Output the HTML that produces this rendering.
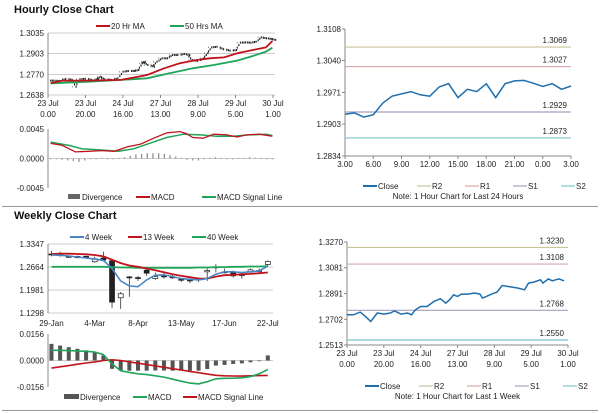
<!DOCTYPE html>
<html><head><meta charset="utf-8"><style>
html,body{margin:0;padding:0;background:#fff}
svg{display:block;font-family:"Liberation Sans",sans-serif}
text{font-size:8px;fill:#222}
.t{font-size:11px;font-weight:bold;fill:#111}
</style></head><body>
<svg id="s" width="600" height="413" viewBox="0 0 600 413">
<text class="t" x="14" y="13">Hourly Close Chart</text>
<line x1="2" y1="206.5" x2="598" y2="206.5" stroke="#999"/>
<text class="t" x="14" y="219">Weekly Close Chart</text>
<line x1="2" y1="410.5" x2="598" y2="410.5" stroke="#999"/>
</svg>
<script>
// ---- Hourly top-left price ----
const hT=[0,4,9,14,17,20,24,29,34,36,39,44,49,53,57,62,65,68,70,72,77,79,83,87,91,95,100,104,106,110,115,118,121,125,130,135,140,143,147,151,155,159,163,167,170];
const hClose=[1.2730,1.2728,1.2741,1.2735,1.2691,1.2739,1.2742,1.2735,1.2739,1.2755,1.2739,1.2735,1.2745,1.2787,1.2792,1.2792,1.2798,1.2841,1.2851,1.2830,1.2819,1.2851,1.2873,1.2873,1.2894,1.2894,1.2901,1.2894,1.2862,1.2856,1.2873,1.2905,1.2943,1.2947,1.2931,1.2922,1.2926,1.2973,1.2975,1.2973,1.2979,1.3007,1.3001,1.2997,1.2991];
const hMaT=[0,9,29,54,74,87,99,112,122,133,143,155,165,170];
const hMa20=[1.2713,1.2730,1.2730,1.2735,1.2766,1.2809,1.2841,1.2862,1.2873,1.2879,1.2905,1.2926,1.2943,1.2984];
const hMa50T=[0,29,54,74,89,109,125,143,155,165,170];
const hMa50=[1.2713,1.2723,1.2735,1.2745,1.2773,1.2809,1.2830,1.2858,1.2888,1.2915,1.2941];
const hTicks=['1.3035','1.2903','1.2770','1.2638'];
const hXLab=[['23 Jul','0.00'],['23 Jul','20.00'],['24 Jul','16.00'],['27 Jul','13.00'],['28 Jul','9.00'],['29 Jul','5.00'],['30 Jul','1.00']];
// hourly MACD
const mT=[0,9,14,19,29,39,49,59,69,79,89,99,104,109,117,125,135,143,150,160,170];
const mMacd=[0.0023,0.0020,0.0015,0.0010,0.0011,0.0012,0.0011,0.0018,0.0022,0.0031,0.0039,0.0041,0.0038,0.0032,0.0031,0.0037,0.0036,0.0033,0.0036,0.0037,0.0034];
const sT=[0,14,24,39,52,64,77,89,102,115,127,140,152,165,170];
const mSig=[0.0025,0.0020,0.0015,0.0013,0.0011,0.0015,0.0024,0.0032,0.0037,0.0036,0.0034,0.0034,0.0036,0.0037,0.0035];
const mHist=[-0.0001,-0.0001,-0.0002,-0.0003,-0.0004,-0.0005,-0.0003,-0.0001,0,0.0001,0,-0.0001,0.0001,0.0002,0.0004,0.0006,0.0007,0.0008,0.0008,0.0008,0.0007,0.0005,0.0003,0.0001,-0.0002,-0.0003,-0.0003,-0.0001,0.0001,0.0002,0.0001,0,-0.0001,0.0001,0.0001,0.0002,0.0001,0.0001,0,0];
const mTicks=['0.0045','0.0000','-0.0045'];
// ---- Hourly right (24h) ----
const dHours=['3.00','6.00','9.00','12.00','15.00','18.00','21.00','0.00','3.00'];
const dClose=[1.2924,1.2927,1.2918,1.2923,1.2948,1.2963,1.2968,1.2973,1.2966,1.2963,1.2983,1.2990,1.2960,1.2978,1.2973,1.2990,1.2960,1.2990,1.2996,1.2997,1.2991,1.2984,1.2990,1.2978,1.2985];
const dLevels=[1.3069,1.3027,1.2929,1.2873];
const dLevelNames=['R2','R1','S1','S2'];
const dTicks=[1.3108,1.3040,1.2971,1.2903,1.2834];
// ---- Weekly ----
const wLab=['29-Jan','4-Mar','8-Apr','13-May','17-Jun','22-Jul'];
const wOpen=[1.305,1.303,1.298,1.298,1.298,1.282,1.293,1.285,1.175,1.237,1.235,1.257,1.232,1.240,1.237,1.230,1.228,1.232,1.252,1.264,1.252,1.250,1.244,1.252,1.255,1.274];
const wClose=[1.304,1.302,1.297,1.294,1.294,1.291,1.287,1.162,1.187,1.236,1.234,1.248,1.238,1.239,1.236,1.227,1.227,1.231,1.256,1.267,1.251,1.240,1.243,1.258,1.256,1.283];
const wHigh=[1.315,1.312,1.300,1.300,1.300,1.297,1.312,1.286,1.192,1.240,1.240,1.262,1.250,1.250,1.243,1.233,1.232,1.236,1.262,1.275,1.262,1.256,1.250,1.262,1.262,1.286];
const wLow=[1.298,1.297,1.294,1.292,1.292,1.279,1.284,1.144,1.142,1.178,1.225,1.240,1.228,1.232,1.232,1.222,1.219,1.222,1.225,1.250,1.248,1.235,1.232,1.248,1.250,1.270];
const w4=[1.302,1.301,1.299,1.296,1.293,1.290,1.286,1.262,1.225,1.210,1.208,1.228,1.242,1.243,1.238,1.232,1.230,1.228,1.232,1.245,1.252,1.252,1.250,1.252,1.255,1.269];
const w13=[1.305,1.306,1.306,1.305,1.304,1.302,1.298,1.288,1.278,1.271,1.267,1.262,1.257,1.251,1.245,1.240,1.236,1.232,1.232,1.238,1.242,1.243,1.245,1.246,1.248,1.250];
const w40=[1.267,1.267,1.267,1.267,1.267,1.267,1.267,1.266,1.265,1.265,1.264,1.264,1.264,1.264,1.264,1.264,1.264,1.265,1.265,1.266,1.266,1.267,1.267,1.268,1.268,1.269];
const wTicks=['1.3347','1.2664','1.1981','1.1298'];
const wDiv=[0.0098,0.0088,0.0078,0.0069,0.0060,0.0050,0.0030,-0.0049,-0.0059,-0.0060,-0.0060,-0.0060,-0.0059,-0.0059,-0.0060,-0.0060,-0.0060,-0.0060,-0.0050,-0.0030,-0.0026,-0.0020,-0.0017,-0.0010,-0.0004,0.0030];
const wMacd=[0.0060,0.0060,0.0058,0.0056,0.0054,0.0050,0.0035,-0.0020,-0.0060,-0.0070,-0.0078,-0.0083,-0.0090,-0.0098,-0.0110,-0.0122,-0.0133,-0.0138,-0.0125,-0.0108,-0.0105,-0.0104,-0.0102,-0.0095,-0.0078,-0.0053];
const wSig=[-0.0045,-0.0037,-0.0030,-0.0022,-0.0015,-0.0008,0,0.0004,0,-0.0008,-0.0016,-0.0024,-0.0032,-0.0040,-0.0048,-0.0056,-0.0064,-0.0072,-0.0080,-0.0087,-0.0090,-0.0091,-0.0092,-0.0090,-0.0089,-0.0088];
const wmTicks=['0.0156','0.0000','-0.0156'];
// ---- 1 week hourly right ----
const kT=[0,5,10,14,18,23,28,33,36,41,46,49,52,56,61,66,71,75,78,81,84,87,92,97,101,103,106,110,114,118,125,130,135,138,142,147,149,153,156,161,165];
const kClose=[1.2735,1.2735,1.2755,1.2723,1.2686,1.2748,1.2740,1.2748,1.2764,1.2740,1.2748,1.2735,1.2772,1.2796,1.2796,1.2833,1.2853,1.2821,1.2845,1.2882,1.2870,1.2887,1.2887,1.2895,1.2887,1.2858,1.2870,1.2887,1.2902,1.2950,1.2939,1.2931,1.2919,1.2968,1.2975,1.2992,1.2968,1.2999,1.2985,1.2999,1.2985];
const kLevels=[1.3230,1.3108,1.2768,1.2550];
const kTicks=[1.3270,1.3081,1.2891,1.2702,1.2513];
const kXLab=[['23 Jul','0.00'],['23 Jul','20.00'],['24 Jul','16.00'],['27 Jul','13.00'],['28 Jul','9.00'],['29 Jul','5.00'],['30 Jul','1.00']];
const levelColors=['#c9c49a','#d9a9a9','#a8a0c0','#7cc4cf'];

const S=document.getElementById('s');const NS='http://www.w3.org/2000/svg';
function mk(tag,a,parent){const e=document.createElementNS(NS,tag);for(const k in a)e.setAttribute(k,a[k]);(parent||S).appendChild(e);return e;}
function txt(x,y,s,anchor){const e=mk('text',{x:x,y:y,'text-anchor':anchor||'start'});e.textContent=s;return e;}
function lin(d0,d1,r0,r1){return v=>r0+(v-d0)/(d1-d0)*(r1-r0);}
function path(xs,ys,xf,yf,color,w){let d='';for(let i=0;i<xs.length;i++)d+=(i?'L':'M')+xf(xs[i]).toFixed(1)+','+yf(ys[i]).toFixed(1);return mk('path',{d:d,fill:'none',stroke:color,'stroke-width':w||1.5});}
function legLine(x,y,color,label,w){const l=mk('line',{x1:x,y1:y,x2:x+14,y2:y,stroke:color,'stroke-width':w||2});


const t=txt(x+15,y+3,label);

}

// ===== Panel 1: hourly price =====
{const X=lin(-2,172,48,275),Y=lin(1.2638,1.3035,95,33);
hTicks.forEach(v=>{const y=Y(+v);const g=mk('line',{x1:48,x2:275,y1:y,y2:y,stroke:'#bbb','stroke-width':0.7});


const t=txt(44,y+3,v,'end');

});
mk('line',{x1:48,x2:48,y1:33,y2:95,stroke:'#888'});
hXLab.forEach((l,i)=>{const x=48+i*37.5;const a=txt(x,106,l[0],'middle');


const b=txt(x,117,l[1],'middle');


mk('line',{x1:x,x2:x,y1:95,y2:98,stroke:'#888'});});
for(let i=0;i<hT.length;i++){const x=X(hT[i]);const p=i?hClose[i-1]:hClose[0];const c=hClose[i];
for(let k=0;k<3;k++){const xx=x+k*1.6;const v=p+(c-p)*(k+1)/3;const y=Y(v);
const r=mk('rect',{x:xx-0.5,y:y-1,width:1.2,height:2,fill:'#222'});

}
const w=mk('line',{x1:x,x2:x,y1:Y(c+0.0004),y2:Y(c-0.0004),stroke:'#333','stroke-width':0.6});

}
const g=path(hMa50T,hMa50,X,Y,'#1fa55a',1.8);


const r=path(hMaT,hMa20,X,Y,'#c0141c',1.8);


legLine(96,26,'#c0141c','20 Hr MA');legLine(170,26,'#1fa55a','50 Hrs MA');}

// ===== Panel 1b: hourly MACD =====
{const X=lin(-2,172,48,275),Y=lin(-0.0045,0.0045,188,129);
mTicks.forEach(v=>{const t=txt(44,Y(+v)+3,v,'end');

});
mk('line',{x1:48,x2:48,y1:129,y2:188,stroke:'#888'});
mk('line',{x1:48,x2:275,y1:Y(0),y2:Y(0),stroke:'#bbb','stroke-width':0.7});
mHist.forEach((v,i)=>{const x=X(i*170/(mHist.length-1));const y0=Y(0),y1=Y(v);
const b=mk('rect',{x:x-0.6,y:Math.min(y0,y1),width:1.2,height:Math.max(0.8,Math.abs(y1-y0)),fill:'#888'});

});
const g=path(sT,mSig,X,Y,'#1fa55a',1.5);


const r=path(mT,mMacd,X,Y,'#c0141c',1.3);


const bx=mk('rect',{x:68,y:194,width:12,height:5,fill:'#666'});


const bt=txt(82,200,'Divergence');


legLine(136,197,'#c0141c','MACD');legLine(202,197,'#1fa55a','MACD Signal Line');}

// ===== generic level chart =====
function levelChart(x0,x1,ytop,ybot,ticks,xs,vals,levels,xlabels,twoLine,legY,noteY,note,tmax){
const Y=lin(ticks[ticks.length-1],ticks[0],ybot,ytop),X=lin(0,tmax,x0,x1);
mk('line',{x1:x0,x2:x0,y1:ytop,y2:ybot,stroke:'#888'});mk('line',{x1:x0,x2:x1,y1:ybot,y2:ybot,stroke:'#888'});
ticks.forEach(v=>{const y=Y(v);mk('line',{x1:x0-3,x2:x0,y1:y,y2:y,stroke:'#888'});const t=txt(x0-4,y+3,v.toFixed(4),'end');

});
levels.forEach((v,i)=>{const y=Y(v);const l=mk('line',{x1:x0,x2:x1,y1:y,y2:y,stroke:levelColors[i],'stroke-width':1.2});


const t=txt(x1-4,y-4,v.toFixed(4),'end');

});
const n=xlabels.length;xlabels.forEach((l,i)=>{const x=x0+i*(x1-x0)/(n-1);mk('line',{x1:x,x2:x,y1:ybot,y2:ybot+3,stroke:'#888'});
if(twoLine){const a=txt(x,ybot+11,l[0],'middle');


const b=txt(x,ybot+22,l[1],'middle');

}
else{const a=txt(x,ybot+11,l,'middle');

}});
const p=path(xs,vals,X,Y,'#1f6fae',1.5);


legLine(x0+18,legY,'#1f6fae','Close');
['R2','R1','S1','S2'].forEach((nm,i)=>legLine(x0+72+i*48,legY,levelColors[i],nm,1.2));
const nt=txt((x0+x1)/2,noteY,note,'middle');nt.setAttribute('font-size','7');

}
levelChart(345,571,29,156,dTicks,dClose.map((v,i)=>i),dClose,dLevels,dHours,false,186,199,'Note: 1 Hour Chart for Last 24 Hours',24);
levelChart(347,568,242,345,kTicks,kT,kClose,kLevels,kXLab,true,386,399,'Note: 1 Hour Chart for Last 1 Week',168);

// ===== Weekly price =====
{const X=lin(-0.4,25.6,48,273),Y=lin(1.1298,1.3347,313,244);
wTicks.forEach(v=>{const y=Y(+v);mk('line',{x1:48,x2:273,y1:y,y2:y,stroke:'#bbb','stroke-width':0.7});const t=txt(44,y+3,v,'end');

});
mk('line',{x1:48,x2:48,y1:244,y2:313,stroke:'#888'});
wLab.forEach((l,i)=>{const x=X(i*5);const t=txt(x,326,l,'middle');

});
for(let i=0;i<wOpen.length;i++){const x=X(i);
const wk=mk('line',{x1:x,x2:x,y1:Y(wHigh[i]),y2:Y(wLow[i]),stroke:'#333','stroke-width':0.8});


const up=wClose[i]>=wOpen[i];const yt=Y(Math.max(wOpen[i],wClose[i])),yb=Y(Math.min(wOpen[i],wClose[i]));
const b=mk('rect',{x:x-2.5,y:yt,width:5,height:Math.max(1,yb-yt),fill:up?'#fff':'#222',stroke:'#222','stroke-width':0.7});

}
const idx=w4.map((v,i)=>i);
const g=path(idx,w40,X,Y,'#1fa55a',1.8);


const r=path(idx,w13,X,Y,'#c0141c',1.8);


const b=path(idx,w4,X,Y,'#4a86c5',1.6);


legLine(70,237,'#4a86c5','4 Week');legLine(128,237,'#c0141c','13 Week');legLine(192,237,'#1fa55a','40 Week');}

// ===== Weekly MACD =====
{const X=lin(-0.4,25.6,48,273),Y=lin(-0.0156,0.0156,387,334);
wmTicks.forEach(v=>{const t=txt(44,Y(+v)+3,v,'end');

});
mk('line',{x1:48,x2:48,y1:334,y2:387,stroke:'#888'});
mk('line',{x1:48,x2:273,y1:Y(0),y2:Y(0),stroke:'#bbb','stroke-width':0.7});
wDiv.forEach((v,i)=>{const x=X(i);const y0=Y(0),y1=Y(v);
const b=mk('rect',{x:x-2,y:Math.min(y0,y1),width:4,height:Math.abs(y1-y0),fill:'#555'});

});
const idx=wMacd.map((v,i)=>i);
const r=path(idx,wSig,X,Y,'#c0141c',1.6);


const g=path(idx,wMacd,X,Y,'#1fa55a',1.6);


const bx=mk('rect',{x:64,y:394,width:15,height:5,fill:'#555'});


const bt=txt(80,400,'Divergence');


legLine(133,397,'#1fa55a','MACD');legLine(183,397,'#c0141c','MACD Signal Line');}
</script>
</body></html>
